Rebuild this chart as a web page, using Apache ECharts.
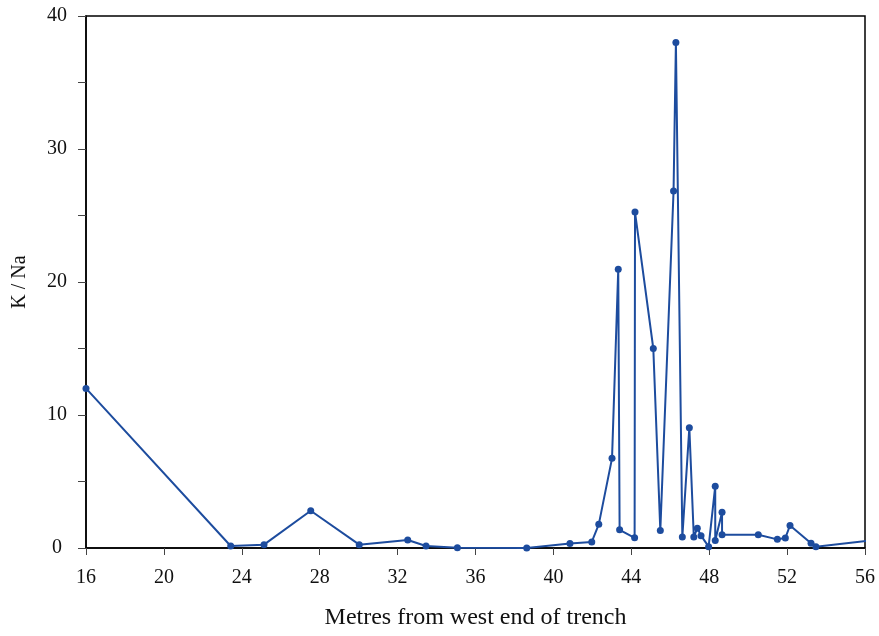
<!DOCTYPE html>
<html>
<head>
<meta charset="utf-8">
<script src="https://cdn.jsdelivr.net/npm/echarts@6/dist/echarts.min.js"></script>
<style>
  html, body { margin: 0; padding: 0; background: #fff; }
  #chart { width: 879px; height: 636px; }
</style>
</head>
<body>
<div id="chart"></div>
<script>
// Distance along the trench (m) and K/Na ratio, in sampling order
const metres = [16, 23.43, 25.14, 27.54, 30.03, 32.52, 33.46, 35.07, 38.63,
  40.85, 41.97, 42.33, 43.01, 43.33, 43.4, 44.17, 44.19, 45.13, 45.49, 46.17,
  46.29, 46.62, 46.98, 47.21, 47.39, 47.58, 47.97, 48.31, 48.31, 48.66, 48.66,
  50.52, 51.5, 51.91, 52.15, 53.23, 53.48, 56.5];
const kNa = [12, 0.15, 0.25, 2.8, 0.25, 0.6, 0.15, 0.02, 0.0,
  0.33, 0.46, 1.78, 6.74, 20.95, 1.37, 0.77, 25.26, 15.0, 1.31, 26.84,
  38.0, 0.82, 9.05, 0.82, 1.49, 0.93, 0.1, 4.65, 0.56, 2.68, 1.0,
  1.0, 0.65, 0.75, 1.7, 0.35, 0.1, 0.6];

const xTicks = { min: 16, max: 56, interval: 4 };
const yTicks = { min: 0, max: 40, interval: 10 };

const lineColor = '#1d4c9e';
const fontFamily = '"Liberation Serif", "DejaVu Serif", serif';

const chart = echarts.init(document.getElementById('chart'));
chart.setOption({
  animation: false,
  grid: {
    left: 86, right: 14, top: 16, bottom: 88,
    show: true, borderColor: '#000', borderWidth: 1.5
  },
  xAxis: {
    type: 'value',
    min: xTicks.min, max: xTicks.max, interval: xTicks.interval,
    name: 'Metres from west end of trench',
    nameLocation: 'middle', nameGap: 58,
    nameTextStyle: { fontFamily, fontSize: 24, color: '#111' },
    axisLine: { lineStyle: { color: '#000', width: 1.5 } },
    axisTick: { length: 7, lineStyle: { color: '#444', width: 1 } },
    axisLabel: { fontFamily, fontSize: 20, color: '#111', margin: 20 },
    splitLine: { show: false }
  },
  yAxis: {
    type: 'value',
    min: yTicks.min, max: yTicks.max, interval: yTicks.interval,
    name: 'K / Na',
    nameLocation: 'middle', nameGap: 56,
    nameTextStyle: { fontFamily, fontSize: 20, color: '#111' },
    axisLine: { show: true, lineStyle: { color: '#000', width: 1.5 } },
    axisTick: { show: true, length: 8, lineStyle: { color: '#444', width: 1 } },
    minorTick: { show: true, splitNumber: 2, length: 8, lineStyle: { color: '#444', width: 1 } },
    axisLabel: { fontFamily, fontSize: 20, color: '#111', margin: 29, align: 'center' },
    splitLine: { show: false }
  },
  series: [{
    type: 'line',
    data: metres.map((m, i) => [m, kNa[i]]),
    symbol: 'circle',
    symbolSize: 7,
    showAllSymbol: true,
    clip: true,
    lineStyle: { color: lineColor, width: 2 },
    itemStyle: { color: lineColor }
  }]
});
</script>
</body>
</html>
